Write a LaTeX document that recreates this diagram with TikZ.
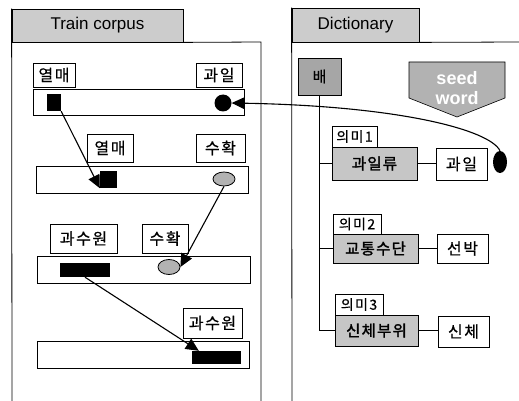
\documentclass[tikz,border=0pt]{standalone}
\usepackage{fontspec}
\setmainfont{Liberation Sans}
\newfontfamily\kr{Noto Sans CJK KR}[LetterSpace=10,FakeBold=0.6]
\newfontfamily\krb{Noto Sans CJK KR}[LetterSpace=8,FakeBold=1.8]
\usetikzlibrary{arrows.meta,shapes.geometric}
\begin{document}
\begin{tikzpicture}[x=1pt,y=-1pt,
  wbox/.style={draw, line width=0.9pt, fill=white, inner sep=0pt,
    font=\kr\fontsize{16}{16}\selectfont},
  gbox/.style={draw, line width=1pt, fill=gray!45, inner sep=0pt,
    font=\krb\fontsize{15.5}{15.5}\selectfont},
  tag/.style={draw, line width=0.7pt, fill=white, inner sep=0pt,
    font=\kr\fontsize{14}{14}\selectfont},
  strip/.style={draw, line width=1pt, fill=white, inner sep=0pt},
  blk/.style={fill=black, inner sep=0pt},
  gdot/.style={ellipse, draw, line width=0.8pt, fill=gray!60, inner sep=0pt},
  bdot/.style={ellipse, fill=black, inner sep=0pt},
  tab/.style={draw, line width=0.8pt, fill=gray!40, inner sep=0pt,
    font=\fontsize{17}{17}\selectfont},
  arr/.style={line width=1.1pt, -{Triangle[length=13pt,width=12pt]}},
  link/.style={line width=0.8pt}
]
\useasboundingbox (0,0) rectangle (519,401);

% ---------- Train corpus panel ----------
\node[tab, minimum width=171pt, minimum height=33pt] (tab1) at (97.5,25.5) {Train corpus};
\draw[link] (tab1.north west) -- (12,401);
\draw[link] (tab1.south east) -- (261,42) coordinate (c1) -- (261,401);

% row 1
\node[wbox, minimum width=42pt, minimum height=24pt] (l1a) at (54,75) {열매};
\node[wbox, minimum width=46pt, minimum height=24pt] (l1b) at (219,75) {과일};
\node[strip, minimum width=211pt, minimum height=26pt] (s1) at (138.5,103) {};
\node[blk, minimum width=14pt, minimum height=17pt] (sq1) at (54,102.5) {};
\node[bdot, minimum width=17pt, minimum height=17pt] (d1) at (223,103) {};

% row 2
\node[wbox, minimum width=46pt, minimum height=28pt] (l2a) at (110,148) {열매};
\node[wbox, minimum width=49pt, minimum height=28pt] (l2b) at (220.5,148) {수확};
\node[strip, minimum width=212pt, minimum height=27pt] (s2) at (142,179.5) {};
\node[blk, minimum width=17pt, minimum height=17pt] (sq2) at (108.5,179.5) {};
\node[gdot, minimum width=22pt, minimum height=14pt] (e2) at (224,179) {};

% row 3
\node[wbox, minimum width=67pt, minimum height=29pt] (l3a) at (83.5,238.5) {과수원};
\node[wbox, minimum width=46pt, minimum height=29pt] (l3b) at (165,238.5) {수확};
\node[strip, minimum width=213pt, minimum height=27pt] (s3) at (143.5,269.5) {};
\node[blk, minimum width=50pt, minimum height=14pt] (r3) at (85,270) {};
\node[gdot, minimum width=22pt, minimum height=15pt] (e3) at (169,267) {};

% row 4
\node[wbox, minimum width=59pt, minimum height=30pt] (l4) at (212.5,323) {과수원};
\node[strip, minimum width=212pt, minimum height=27pt] (s4) at (143,354.5) {};
\node[blk, minimum width=49pt, minimum height=13pt] (r4) at (216.5,357.5) {};

% links between occurrences
\draw[arr] (sq1.south east) -- (sq2.south west);
\draw[arr] (e2.south) -- (e3.east);
\draw[arr] (r3.south) -- ([xshift=7pt]r4.north west);

% ---------- Dictionary panel ----------
\node[tab, minimum width=127pt, minimum height=34pt] (tab2) at (355.5,25) {Dictionary};
\draw[link] (tab2.north west) -- (292,401);
\draw[link] (tab2.south east) -- (519,42);

\node[draw, line width=0.8pt, fill=gray!70, inner sep=0pt, minimum width=43pt,
  minimum height=37pt, font=\kr\fontsize{15}{15}\selectfont] (bae) at (319.5,76.5) {배};

% seed word marker
\fill[gray!60, draw=black, line width=0.6pt] (409,62) -- (505,62) -- (505,98) -- (457,117) -- (409,98) -- cycle;
\node[align=center, text=white, inner sep=0pt,
  font=\bfseries\fontsize{18}{20}\selectfont] (seed) at (457,88) {seed\\word};

% senses
\node[tag, minimum width=45pt, minimum height=21pt] (m1) at (354.5,136.5) {의미1};
\node[gbox, minimum width=85pt, minimum height=33pt] (g1) at (374.5,163.5) {과일류};
\node[wbox, minimum width=51pt, minimum height=32pt] (w1) at (461.5,164) {과일};

\node[tag, minimum width=48pt, minimum height=20pt] (m2) at (357,224) {의미2};
\node[gbox, minimum width=85pt, minimum height=29pt] (g2) at (375.5,248.5) {교통수단};
\node[wbox, minimum width=51pt, minimum height=29pt] (w2) at (462.5,248.5) {선박};

\node[tag, minimum width=48pt, minimum height=21pt] (m3) at (359,304.5) {의미3};
\node[gbox, minimum width=83pt, minimum height=31pt] (g3) at (376.5,330.5) {신체부위};
\node[wbox, minimum width=51pt, minimum height=31pt] (w3) at (463.5,331.5) {신체};

% sense tree
\draw[link] (bae.south) |- (g3.west);
\draw[link] (bae.south |- g1.west) -- (g1.west);
\draw[link] (bae.south |- g2.west) -- (g2.west);
\draw[link] (g1.east) -- (w1.west |- g1.east);
\draw[link] (g2.east) -- (w2.west |- g2.east);
\draw[link] (g3.east) -- (w3.west |- g3.east);

% seed word occurrence linked back to the corpus
\node[bdot, minimum width=14pt, minimum height=22pt] (dR) at (500,162) {};
\draw[arr] (dR.north) .. controls (490,130) and (400,106) .. (d1.east);
\end{tikzpicture}
\end{document}
